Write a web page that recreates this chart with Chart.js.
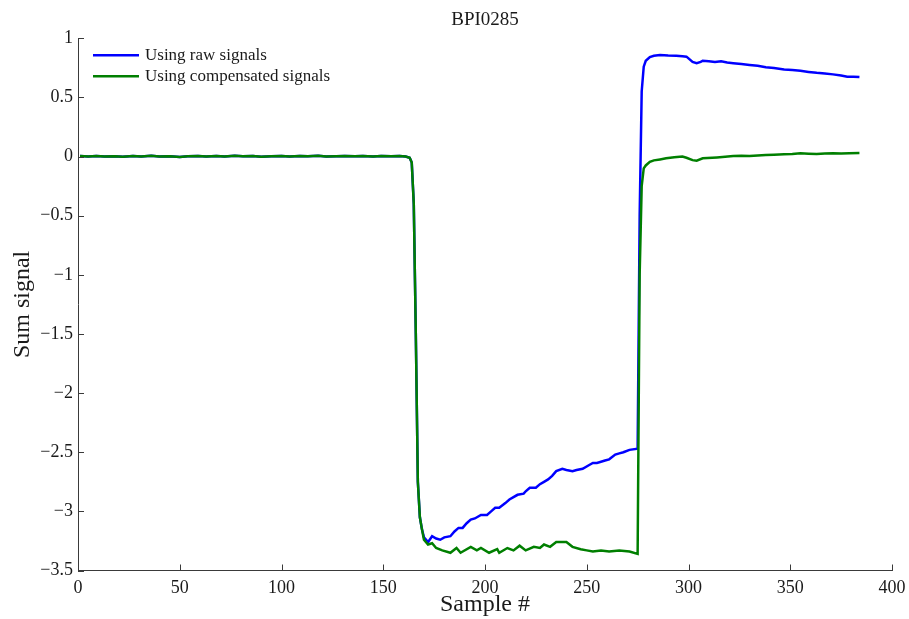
<!DOCTYPE html>
<html>
<head>
<meta charset="utf-8">
<title>BPI0285</title>
<script src="https://cdn.jsdelivr.net/npm/chart.js@4.4.1/dist/chart.umd.min.js"></script>
<style>
  html, body { margin: 0; padding: 0; background: #fff; }
  #wrap { width: 909px; height: 619px; }
</style>
</head>
<body>
<div id="wrap"><canvas id="sumChart" width="909" height="619"></canvas></div>
<script>
// baseline before the beam arrives (both signals agree here)
const flatSample = [1, 5, 9, 13, 18, 22, 27, 31, 36, 40, 45, 50, 54, 59, 63, 68, 72, 77, 81, 86,
  90, 95, 100, 104, 109, 113, 118, 122, 127, 131, 136, 140, 145, 149, 154, 158, 161];
const flatSum = [0.004, 0.001, 0.005, 0.0, 0.003, -0.002, 0.004, 0.001, 0.006, 0.0, 0.003, -0.003,
  0.002, 0.005, 0.0, 0.004, 0.001, 0.006, 0.002, 0.004, -0.001, 0.003, 0.005, 0.0, 0.004, 0.002,
  0.006, 0.001, 0.003, 0.005, 0.002, 0.004, 0.001, 0.005, 0.003, 0.004, 0.0];

// raw signals
const rawSample = [163, 164, 165, 166, 167, 168, 169, 170, 172, 174, 176, 178, 180, 183, 185, 187,
  189, 191, 193, 195, 198, 201, 203, 205, 207, 210, 212, 214, 216, 219, 220, 222, 225, 227, 229,
  231, 233, 235, 238, 240, 243, 245, 248, 251, 253, 255, 257, 259, 261, 264, 266, 268, 271, 275,
  276, 277, 278, 279, 281, 283, 286, 290, 294, 297, 299, 300, 302, 304, 306, 307, 310, 313, 316,
  319, 322, 326, 330, 334, 338, 342, 347, 351, 355, 359, 363, 367, 371, 375, 378, 381, 384];
const rawSum = [-0.01, -0.05, -0.4, -1.5, -2.75, -3.05, -3.15, -3.22, -3.26, -3.21, -3.23, -3.24,
  -3.22, -3.21, -3.17, -3.14, -3.14, -3.10, -3.07, -3.06, -3.03, -3.03, -3.00, -2.97, -2.97, -2.93,
  -2.90, -2.88, -2.86, -2.85, -2.83, -2.80, -2.80, -2.77, -2.75, -2.73, -2.70, -2.66, -2.64, -2.65,
  -2.66, -2.65, -2.64, -2.61, -2.59, -2.59, -2.58, -2.57, -2.56, -2.52, -2.51, -2.50, -2.48, -2.47,
  -0.5, 0.55, 0.76, 0.81, 0.842, 0.853, 0.859, 0.855, 0.853, 0.848, 0.845, 0.83, 0.80, 0.79, 0.80,
  0.81, 0.805, 0.80, 0.805, 0.795, 0.79, 0.783, 0.775, 0.767, 0.755, 0.748, 0.737, 0.732, 0.725,
  0.716, 0.708, 0.702, 0.695, 0.685, 0.675, 0.675, 0.672];

// compensated signals
const compSample = [163, 164, 165, 166, 167, 168, 169, 170, 172, 174, 176, 179, 183, 186, 188, 193,
  196, 198, 202, 206, 207, 211, 214, 217, 220, 224, 227, 229, 232, 235, 238, 240, 243, 247, 250,
  253, 257, 261, 266, 271, 275, 276, 277, 278, 279, 281, 283, 286, 289, 293, 297, 299, 302, 304,
  307, 314, 318, 322, 326, 330, 334, 338, 342, 347, 351, 355, 359, 363, 367, 371, 375, 379, 384];
const compSum = [-0.01, -0.05, -0.4, -1.5, -2.75, -3.05, -3.15, -3.24, -3.28, -3.27, -3.31, -3.33,
  -3.35, -3.31, -3.35, -3.30, -3.33, -3.31, -3.35, -3.32, -3.35, -3.31, -3.33, -3.29, -3.33, -3.30,
  -3.31, -3.28, -3.30, -3.26, -3.26, -3.26, -3.30, -3.32, -3.33, -3.34, -3.33, -3.34, -3.33, -3.34,
  -3.36, -1.0, -0.25, -0.1, -0.075, -0.045, -0.032, -0.024, -0.015, -0.005, 0.0, -0.01, -0.03,
  -0.035, -0.015, -0.007, -0.002, 0.004, 0.006, 0.004, 0.01, 0.013, 0.015, 0.019, 0.022, 0.027,
  0.024, 0.021, 0.025, 0.027, 0.026, 0.029, 0.03];

const xTicks = [0, 50, 100, 150, 200, 250, 300, 350, 400];
const yTicks = [1, 0.5, 0, -0.5, -1, -1.5, -2, -2.5, -3, -3.5];

const serif = "'Liberation Serif', 'DejaVu Serif', serif";
const axisColor = '#3a3a3a';
const textColor = '#1a1a1a';

function points(xs, ys) {
  return xs.map((x, i) => ({ x: x, y: ys[i] }));
}
const minus = v => String(v).replace('-', '\u2212');

// matlab-style ticks that point into the axes
const inwardTicks = {
  id: 'inwardTicks',
  afterDatasetsDraw(chart) {
    const { ctx, chartArea: a, scales: { x, y } } = chart;
    ctx.save();
    ctx.strokeStyle = axisColor;
    ctx.lineWidth = 1;
    ctx.beginPath();
    xTicks.forEach(v => {
      const px = Math.round(x.getPixelForValue(v)) + 0.5;
      ctx.moveTo(px, a.bottom);
      ctx.lineTo(px, a.bottom - 6);
    });
    yTicks.forEach(v => {
      const py = Math.round(y.getPixelForValue(v)) + 0.5;
      ctx.moveTo(a.left, py);
      ctx.lineTo(a.left + 6, py);
    });
    ctx.stroke();
    ctx.restore();
  }
};

// legend in the upper left corner of the plot
const cornerLegend = {
  id: 'cornerLegend',
  afterDraw(chart) {
    const { ctx, chartArea: a } = chart;
    ctx.save();
    ctx.font = '17px ' + serif;
    ctx.textBaseline = 'middle';
    chart.data.datasets.forEach((ds, i) => {
      const yy = a.top + 17 + i * 21;
      ctx.strokeStyle = ds.borderColor;
      ctx.lineWidth = 2.5;
      ctx.beginPath();
      ctx.moveTo(a.left + 15, yy);
      ctx.lineTo(a.left + 61, yy);
      ctx.stroke();
      ctx.fillStyle = textColor;
      ctx.fillText(ds.label, a.left + 67, yy);
    });
    ctx.restore();
  }
};

new Chart(document.getElementById('sumChart'), {
  type: 'line',
  data: {
    datasets: [{
      label: 'Using raw signals',
      data: points(flatSample.concat(rawSample), flatSum.concat(rawSum)),
      borderColor: '#0000ff',
      borderWidth: 2.5,
      pointRadius: 0,
      tension: 0,
      order: 2
    }, {
      label: 'Using compensated signals',
      data: points(flatSample.concat(compSample), flatSum.concat(compSum)),
      borderColor: '#007f00',
      borderWidth: 2.5,
      pointRadius: 0,
      tension: 0,
      order: 1
    }]
  },
  options: {
    responsive: false,
    animation: false,
    layout: { padding: { left: 0, right: 17, top: 0, bottom: 0 } },
    plugins: {
      legend: { display: false },
      tooltip: { enabled: false },
      title: {
        display: true,
        text: 'BPI0285',
        fullSize: false,
        color: textColor,
        font: { family: serif, size: 19, weight: 'normal' },
        padding: { top: 9, bottom: 6.5 }
      }
    },
    scales: {
      x: {
        type: 'linear',
        min: 0,
        max: 400,
        afterBuildTicks: s => { s.ticks = xTicks.map(v => ({ value: v })); },
        afterFit: s => { s.height = 48.5; s.paddingLeft = 0; s.paddingRight = 0; },
        grid: { display: true, drawOnChartArea: false, drawTicks: false },
        border: { display: true, color: axisColor, width: 1 },
        ticks: { padding: 7, maxRotation: 0, color: textColor, font: { family: serif, size: 18 }, callback: minus },
        title: { display: true, text: 'Sample #', color: textColor, font: { family: serif, size: 24 }, padding: { top: 0, bottom: 0 } }
      },
      y: {
        min: -3.5,
        max: 1,
        afterBuildTicks: s => { s.ticks = yTicks.map(v => ({ value: v })); },
        afterFit: s => { s.width = 78; },
        grid: { display: true, drawOnChartArea: false, drawTicks: false },
        border: { display: true, color: axisColor, width: 1 },
        ticks: { padding: 5, color: textColor, font: { family: serif, size: 18 }, callback: minus },
        title: { display: true, text: 'Sum signal', color: textColor, font: { family: serif, size: 24 }, padding: { top: 8, bottom: 0 } }
      }
    }
  },
  plugins: [inwardTicks, cornerLegend]
});
</script>
</body>
</html>
